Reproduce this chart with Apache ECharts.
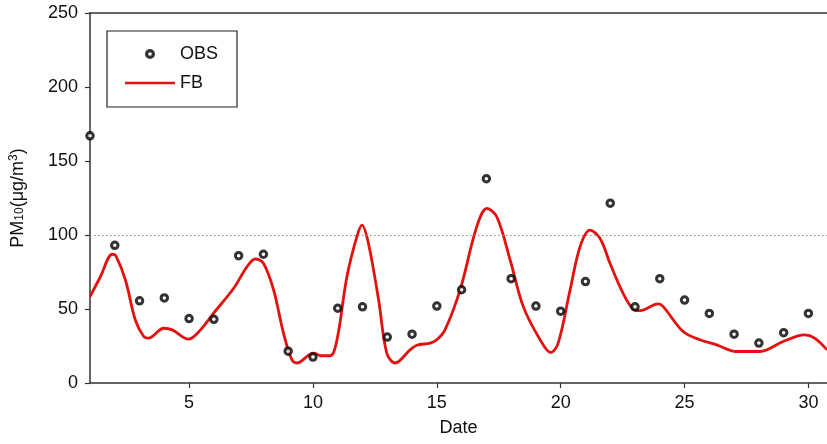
<!DOCTYPE html>
<html>
<head>
<meta charset="utf-8">
<script src="https://cdn.jsdelivr.net/npm/echarts@6/dist/echarts.min.js"></script>
<style>html,body{margin:0;padding:0;background:#fff}#c{width:827px;height:444px}</style>
</head>
<body>
<div id="c"></div>
<script>
const obsDays = [1,2,3,4,5,6,7,8,9,10,11,12,13,14,15,16,17,18,19,20,21,22,23,24,25,26,27,28,29,30];
const obsValues = [167,93,55.5,57.5,43.5,43,86,87,21.5,17.5,50.5,51.5,31,33,52,63,138,70.5,52,48.5,68.5,121.5,51.5,70.5,56,47,33,27,34,47];
const fbDays = [1,1.42,1.9,2.04,2.43,2.83,3.17,3.36,3.98,4.32,4.98,5.46,5.99,6.8,7.34,7.67,8.0,8.41,8.81,9.15,9.35,10.02,10.36,10.7,10.97,11.37,11.77,11.98,12.24,12.65,12.98,13.32,13.92,14.19,14.73,15.0,15.33,15.94,16.61,17.02,17.42,17.96,18.49,19.17,19.6,19.9,20.38,20.78,21.18,21.59,21.99,22.52,22.93,23.2,23.94,24.14,24.94,25.62,26.29,27.1,28.04,28.98,29.85,30.25,30.75];
const fbValues = [58.4,71.8,87,86,69.6,42.6,31.4,30.3,37,35.9,29.6,35.9,47.2,64,78.6,83.8,80.9,62.9,33.7,15.7,13.5,20.2,18.4,18.4,29.2,71.8,98.8,106.7,94.3,56.1,20.2,13.5,22.4,25.5,27,29.2,35.9,62.9,105.5,117.9,112.3,83.1,51.6,29.2,20.6,27,62.9,92,103.3,97.7,80.9,60.6,49.9,48.9,53.4,51.6,34.8,29.2,25.8,21.3,21.3,28,32.5,30.3,22.4];
const xTicks = [5,10,15,20,25,30];
const yTicks = [0,50,100,150,200,250];
const thresholdValue = 100;

const chart = echarts.init(document.getElementById('c'), null, {renderer:'canvas'});
const font = 'Liberation Sans, Arial, Helvetica, sans-serif';
const axisColor = '#333';
const txt = '#111';
const ringIcon = 'path://M5,0 A5,5 0 1,1 5,10 A5,5 0 1,1 5,0 Z M5,3.2 A1.8,1.8 0 1,0 5,6.8 A1.8,1.8 0 1,0 5,3.2 Z';
chart.setOption({
  animation: false,
  textStyle: {fontFamily: font},
  grid: {left: 90, right: 0, top: 13, bottom: 61, containLabel: false, outerBoundsMode: 'none'},
  legend: {
    orient: 'vertical', left: 107, top: 31,
    padding: [14, 19, 15, 18],
    borderColor: '#222', borderWidth: 1.2,
    itemWidth: 50, itemHeight: 10, itemGap: 11,
    textStyle: {fontSize: 18, color: txt, fontFamily: font},
    data: [
      {name: 'OBS', icon: ringIcon, itemStyle: {color: '#000', borderWidth: 0}},
      {name: 'FB', icon: 'path://M0,0 L50,0 L50,2.6 L0,2.6 Z', itemStyle: {color: '#e3120f'}}
    ]
  },
  xAxis: [{
    type: 'value', min: 1, max: 30.75,
    name: 'Date', nameLocation: 'middle', nameGap: 36,
    nameTextStyle: {fontSize: 18, color: txt},
    axisLine: {show: true, onZero: false, lineStyle: {color: axisColor, width: 1.5}},
    axisTick: {show: true, length: 5, customValues: xTicks, lineStyle: {color: axisColor, width: 1.2}},
    axisLabel: {customValues: xTicks, fontSize: 18, color: txt, margin: 11},
    splitLine: {show: false}
  }, {
    type: 'value', min: 1, max: 30.75, position: 'top',
    axisLine: {show: true, onZero: false, lineStyle: {color: axisColor, width: 1.5}},
    axisTick: {show: false}, axisLabel: {show: false}, splitLine: {show: false}
  }],
  yAxis: {
    type: 'value', min: 0, max: 250, interval: 50,
    name: '{a|PM}{s|10}{a|(μg/m}{p|3}{a|)}',
    nameLocation: 'middle', nameRotate: 90, nameGap: 62,
    nameTextStyle: {
      color: txt,
      rich: {
        a: {fontSize: 18, color: txt, fontFamily: font},
        s: {fontSize: 12, color: txt, fontFamily: font, padding: [4, 0, 0, 0]},
        p: {fontSize: 12, color: txt, fontFamily: font, padding: [0, 0, 8, 0]}
      }
    },
    axisLine: {show: true, lineStyle: {color: axisColor, width: 1.5}},
    axisTick: {show: true, length: 5, lineStyle: {color: axisColor, width: 1.2}},
    axisLabel: {fontSize: 18, color: txt, margin: 12},
    splitLine: {show: false}
  },
  series: [{
    name: 'FB', type: 'line', smooth: 0.35,
    data: fbDays.map((d, i) => [d, fbValues[i]]),
    symbol: 'none', showSymbol: false,
    lineStyle: {color: '#e3120f', width: 2.8},
    itemStyle: {color: '#e3120f'},
    z: 2,
    markLine: {
      silent: true, symbol: 'none', label: {show: false},
      lineStyle: {type: [1.5, 2.5], color: '#8a8a8a', width: 1},
      data: [{yAxis: thresholdValue}]
    }
  }, {
    name: 'OBS', type: 'scatter',
    data: obsDays.map((d, i) => [d, obsValues[i]]),
    symbol: 'circle', symbolSize: 6.5,
    itemStyle: {color: '#fff', borderColor: '#000', borderWidth: 3},
    clip: false,
    z: 3
  }]
});
</script>
</body>
</html>
